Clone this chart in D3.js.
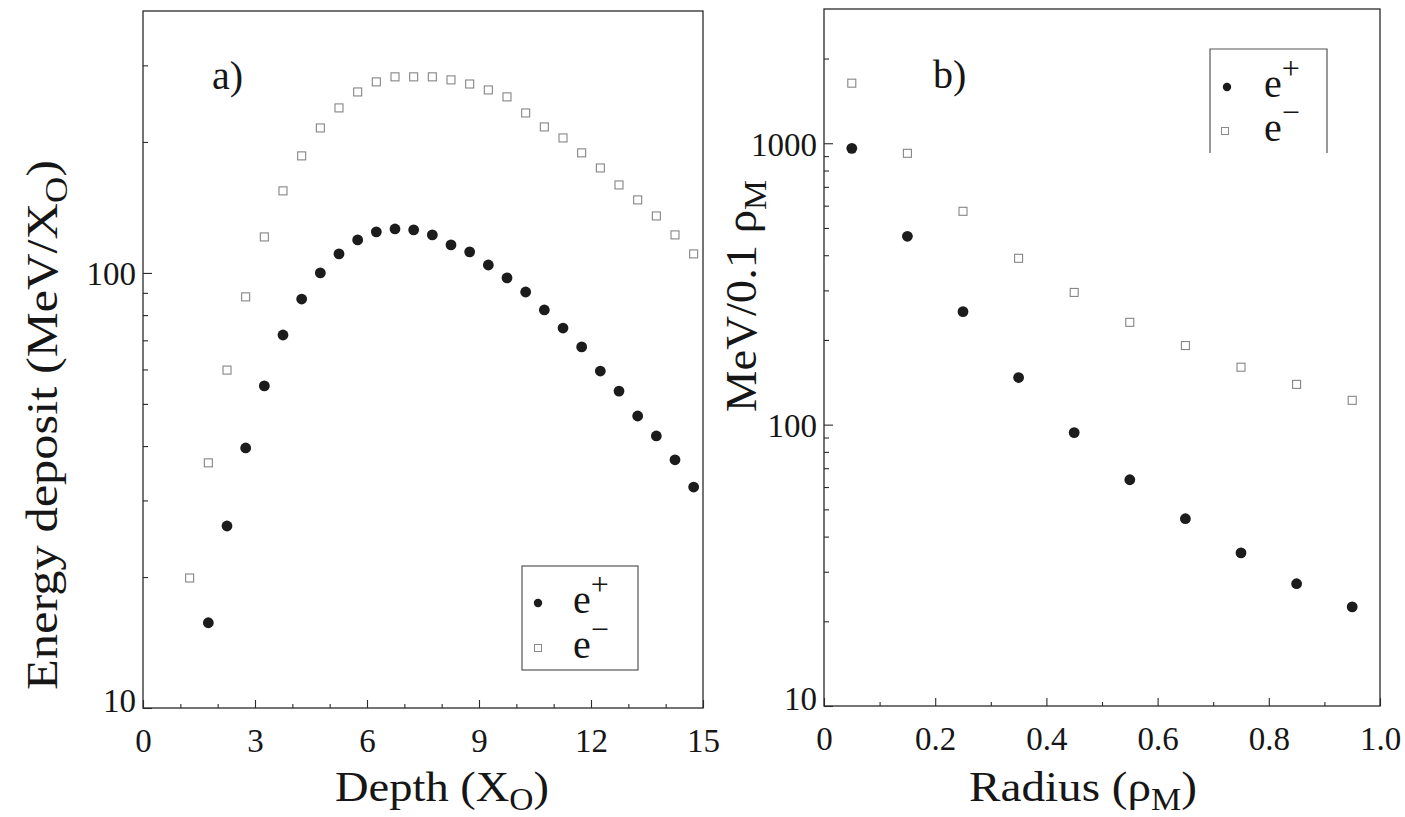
<!DOCTYPE html>
<html><head><meta charset="utf-8">
<script src="https://cdn.jsdelivr.net/npm/d3@7"></script>
<style>
body{margin:0;background:#fff;}
</style></head><body>
<svg id="c" width="1405" height="817"></svg>
<script>
// ---- data ----
const depthPos = [1.75,2.25,2.75,3.25,3.75,4.25,4.75,5.25,5.75,6.25,6.75,7.25,7.75,8.25,8.75,9.25,9.75,10.25,10.75,11.25,11.75,12.25,12.75,13.25,13.75,14.25,14.75];
const depositPos = [15.7,26.2,39.6,55.0,72.0,87.1,100,110.6,119.1,124.3,126.2,125.6,122.3,116.0,111.8,104.3,97.4,90.4,82.2,74.7,67.6,59.5,53.5,46.9,42.2,37.2,32.2];
const depthEle = [1.25,1.75,2.25,2.75,3.25,3.75,4.25,4.75,5.25,5.75,6.25,6.75,7.25,7.75,8.25,8.75,9.25,9.75,10.25,10.75,11.25,11.75,12.25,12.75,13.25,13.75,14.25,14.75];
const depositEle = [19.9,36.6,59.8,88.1,121,154.4,185.8,215.4,239.5,260.6,274.9,282.3,282.3,282.3,277.8,271.8,263.4,253.9,233.2,216.6,204.3,188.8,174.3,159.3,147.2,135.2,122.3,110.6];
const radius = [0.05,0.15,0.25,0.35,0.45,0.55,0.65,0.75,0.85,0.95];
const radialPos = [959,467,252,147,93.7,63.7,46.3,35.0,27.2,22.5];
const radialEle = [1635,921,573,390,295,231,191,160,139,122];
const depthTicks = [0,3,6,9,12,15];
const depthMinor = [1,2,4,5,7,8,10,11,13,14];
const radiusTicks = [0,0.2,0.4,0.6,0.8,1.0];
const radiusMinor = [0.1,0.3,0.5,0.7,0.9];
const depositTicks = [10,100];
const radialTicks = [10,100,1000];
const seriesNames = ["e", "e"];
const seriesSup = ["+", "\u2212"];

// ---- layout ----
const FONT = "'Liberation Serif', 'Times New Roman', serif";
const svg = d3.select("#c");
const FRAME = "#2a2a2a";
const INK = "#161616";

function minorLog(domain){
  const out=[];
  for(let d=Math.pow(10,Math.floor(Math.log10(domain[0]))); d<domain[1]; d*=10){
    for(let m=2;m<=9;m++){ const v=m*d; if(v>domain[0] && v<domain[1]) out.push(v); }
  }
  return out;
}

function panel(cfg){
  const x = d3.scaleLinear().domain(cfg.xDomain).range([cfg.x0,cfg.x1]);
  const y = d3.scaleLog().domain(cfg.yDomain).range([cfg.y1,cfg.y0]);
  const g = svg.append("g");
  g.append("rect").attr("x",cfg.x0).attr("y",cfg.y0).attr("width",cfg.x1-cfg.x0).attr("height",cfg.y1-cfg.y0)
    .attr("fill","none").attr("stroke",FRAME).attr("stroke-width",1.3);
  const ax = g.append("g").attr("transform",`translate(0,${cfg.y1})`)
    .call(d3.axisBottom(x).tickValues(cfg.xTicks).tickSize(-8).tickPadding(0).tickFormat(cfg.xFmt));
  const axm = g.append("g").attr("transform",`translate(0,${cfg.y1})`)
    .call(d3.axisBottom(x).tickValues(cfg.xMinor).tickSize(-4).tickFormat(""));
  const ay = g.append("g").attr("transform",`translate(${cfg.x0},0)`)
    .call(d3.axisLeft(y).tickValues(cfg.yTicks).tickSize(-9).tickPadding(7).tickFormat(d3.format("d")));
  const aym = g.append("g").attr("transform",`translate(${cfg.x0},0)`)
    .call(d3.axisLeft(y).tickValues(minorLog(cfg.yDomain)).tickSize(-5).tickFormat(""));
  [ax,axm,ay,aym].forEach(a=>{ a.select(".domain").remove(); a.selectAll("line").attr("stroke",FRAME).attr("stroke-width",1.1); });
  ax.selectAll("text").attr("dy",null).attr("y",44)
    .style("font-family",FONT).style("font-size","33px").style("fill",INK);
  ay.selectAll("text").attr("dy",null).attr("y", d=> d===cfg.yDomain[0] ? 3 : 12)
    .style("font-family",FONT).style("font-size","33px").style("fill",INK);
  g.append("g").selectAll("rect").data(cfg.eleX).join("rect")
    .attr("x",d=>x(d)-4).attr("y",(d,i)=>y(cfg.eleY[i])-4).attr("width",8).attr("height",8)
    .attr("fill","none").attr("stroke","#858585").attr("stroke-width",1.1);
  g.append("g").selectAll("circle").data(cfg.posX).join("circle")
    .attr("cx",d=>x(d)).attr("cy",(d,i)=>y(cfg.posY[i])).attr("r",5.4).attr("fill","#1c1c1c");
  return {g,x,y};
}

panel({x0:143,x1:703,y0:11,y1:708,xDomain:[0,15],yDomain:[10,400],
  xTicks:depthTicks,xMinor:depthMinor,xFmt:d3.format("d"),yTicks:depositTicks,
  posX:depthPos,posY:depositPos,eleX:depthEle,eleY:depositEle});
panel({x0:824,x1:1380,y0:9,y1:706,xDomain:[0,1],yDomain:[10,3000],
  xTicks:radiusTicks,xMinor:radiusMinor,xFmt:d=> d===0?"0":d3.format(".1f")(d),yTicks:radialTicks,
  posX:radius,posY:radialPos,eleX:radius,eleY:radialEle});

function txt(sel){ return sel.style("font-family",FONT).style("fill",INK); }

// panel labels
txt(svg.append("text").attr("x",212).attr("y",89).style("font-size","40px")).text("a)");
txt(svg.append("text").attr("x",933).attr("y",88).style("font-size","40px")).text("b)");

// axis titles
function title(sel, main, sub, tail, len){
  txt(sel);
  if(len) sel.attr("textLength",len).attr("lengthAdjust","spacingAndGlyphs");
  sel.append("tspan").text(main);
  sel.append("tspan").style("font-size","0.72em").attr("dy","0.3em").text(sub);
  if(tail) sel.append("tspan").attr("dy","-0.22em").text(tail);
}
title(svg.append("text").attr("x",335).attr("y",801).style("font-size","43px"), "Depth (X","O",")", 214);
title(svg.append("text").attr("x",969).attr("y",801).style("font-size","43px"), "Radius (\u03C1","M",")", 228);
title(svg.append("text").attr("transform","translate(57,690) rotate(-90)").style("font-size","44px"), "Energy deposit (MeV/X","O",")", 530);
title(svg.append("text").attr("transform","translate(756,412) rotate(-90)").style("font-size","44px"), "MeV/0.1 \u03C1","M","", 232);

// legends
function legend(box, items, openBottom){
  const g = svg.append("g");
  if(openBottom){
    g.append("path").attr("d",`M${box.x},${box.y+box.h} V${box.y} H${box.x+box.w} V${box.y+box.h}`)
      .attr("fill","none").attr("stroke","#555").attr("stroke-width",1.2);
  } else {
    g.append("rect").attr("x",box.x).attr("y",box.y).attr("width",box.w).attr("height",box.h)
      .attr("fill","#fff").attr("stroke","#555").attr("stroke-width",1.2);
  }
  items.forEach((it,i)=>{
    const cy = box.y + it.dy;
    if(i===0) g.append("circle").attr("cx",box.x+it.mx).attr("cy",cy).attr("r",4.2).attr("fill","#1c1c1c");
    else g.append("rect").attr("x",box.x+it.mx-3.5).attr("y",cy-3.5).attr("width",7).attr("height",7)
      .attr("fill","none").attr("stroke","#888").attr("stroke-width",1);
    const t = txt(g.append("text").attr("x",box.x+it.tx).attr("y",cy+10).style("font-size","40px"));
    t.append("tspan").text(seriesNames[i]);
    t.append("tspan").style("font-size","0.8em").attr("dy","-0.55em").text(seriesSup[i]);
  });
}
legend({x:522,y:566,w:116,h:104}, [{mx:16,tx:51,dy:37},{mx:16,tx:51,dy:82}], false);
legend({x:1210,y:49,w:117,h:104}, [{mx:17,tx:54,dy:38},{mx:15,tx:54,dy:82}], true);
</script>
</body></html>
